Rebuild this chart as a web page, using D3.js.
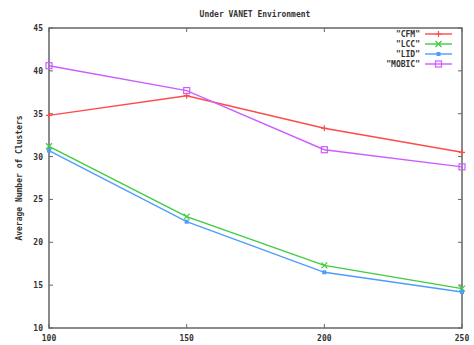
<!DOCTYPE html>
<html>
<head>
<meta charset="utf-8">
<script src="https://cdn.jsdelivr.net/npm/d3@7"></script>
<style>
  body { margin: 0; background: #fff; }
  svg { display: block; }
</style>
</head>
<body>
<svg id="chart" width="474" height="345"></svg>
<script>
// data
const nodes = [100, 150, 200, 250];
const cfm   = [34.8, 37.1, 33.3, 30.5];
const lcc   = [31.2, 23.0, 17.3, 14.6];
const lid   = [30.7, 22.4, 16.5, 14.2];
const mobic = [40.6, 37.7, 30.8, 28.8];
const yTicks = [10, 15, 20, 25, 30, 35, 40, 45];

const series = [
  { name: "\"CFM\"",   values: cfm,   color: "#ff4a4a", marker: "plus" },
  { name: "\"LCC\"",   values: lcc,   color: "#3fcc3f", marker: "cross" },
  { name: "\"LID\"",   values: lid,   color: "#4d9dff", marker: "star" },
  { name: "\"MOBIC\"", values: mobic, color: "#cc5cff", marker: "square" }
];

const svg = d3.select("#chart");
svg.style("font-family", "DejaVu Sans Mono").style("font-weight", "bold");

const plotLeft = 49, plotRight = 462, plotTop = 28, plotBottom = 328;

const x = d3.scaleLinear().domain([100, 250]).range([plotLeft, plotRight]);
const y = d3.scaleLinear().domain([10, 45]).range([plotBottom, plotTop]);

// title
svg.append("text")
  .attr("x", 255)
  .attr("y", 17)
  .attr("text-anchor", "middle")
  .attr("font-size", "8px")
  .attr("fill", "#333")
  .text("Under VANET Environment");

// y axis label
svg.append("text")
  .attr("transform", `translate(22, ${(plotTop + plotBottom) / 2}) rotate(-90)`)
  .attr("text-anchor", "middle")
  .attr("font-size", "8px")
  .attr("fill", "#333")
  .text("Average Number of Clusters");

// tick marks on all sides
const tickLen = 4;
const frame = svg.append("g").attr("stroke", "#666").attr("stroke-width", 1);
yTicks.forEach(t => {
  frame.append("line").attr("x1", plotLeft).attr("x2", plotLeft + tickLen).attr("y1", y(t)).attr("y2", y(t));
  frame.append("line").attr("x1", plotRight).attr("x2", plotRight - tickLen).attr("y1", y(t)).attr("y2", y(t));
  svg.append("text")
    .attr("x", 43)
    .attr("y", y(t) + 3)
    .attr("text-anchor", "end")
    .attr("font-size", "8px")
    .attr("fill", "#333")
    .text(t);
});
nodes.forEach(n => {
  frame.append("line").attr("x1", x(n)).attr("x2", x(n)).attr("y1", plotBottom).attr("y2", plotBottom - tickLen);
  frame.append("line").attr("x1", x(n)).attr("x2", x(n)).attr("y1", plotTop).attr("y2", plotTop + tickLen);
  svg.append("text")
    .attr("x", x(n))
    .attr("y", 341)
    .attr("text-anchor", "middle")
    .attr("font-size", "8px")
    .attr("fill", "#333")
    .text(n);
});

// frame
svg.append("rect")
  .attr("x", plotLeft).attr("y", plotTop)
  .attr("width", plotRight - plotLeft).attr("height", plotBottom - plotTop)
  .attr("fill", "none")
  .attr("stroke", "#666")
  .attr("stroke-width", 1.5);

function drawMarker(g, kind, cx, cy, color) {
  const s = 3;
  if (kind === "plus") {
    g.append("path").attr("d", `M${cx - s},${cy}H${cx + s}M${cx},${cy - s}V${cy + s}`)
      .attr("stroke", color).attr("stroke-width", 1.2).attr("fill", "none");
  } else if (kind === "cross") {
    g.append("path").attr("d", `M${cx - s},${cy - s}L${cx + s},${cy + s}M${cx - s},${cy + s}L${cx + s},${cy - s}`)
      .attr("stroke", color).attr("stroke-width", 1.2).attr("fill", "none");
  } else if (kind === "star") {
    g.append("rect").attr("x", cx - 2).attr("y", cy - 2).attr("width", 4).attr("height", 4)
      .attr("fill", color);
  } else {
    g.append("rect").attr("x", cx - 3).attr("y", cy - 3).attr("width", 6).attr("height", 6)
      .attr("fill", "none").attr("stroke", color).attr("stroke-width", 1.2);
  }
}

const line = d3.line()
  .x((d, i) => x(nodes[i]))
  .y(d => y(d));

series.forEach((s, k) => {
  const g = svg.append("g");
  g.append("path")
    .datum(s.values)
    .attr("fill", "none")
    .attr("stroke", s.color)
    .attr("stroke-width", 1.4)
    .attr("d", line);
  s.values.forEach((v, i) => drawMarker(g, s.marker, x(nodes[i]), y(v), s.color));

  // legend entry
  const ly = 34 + k * 10;
  svg.append("text")
    .attr("x", 420)
    .attr("y", ly + 3)
    .attr("text-anchor", "end")
    .attr("font-size", "8px")
    .attr("fill", "#333")
    .text(s.name);
  g.append("line")
    .attr("x1", 425).attr("x2", 452)
    .attr("y1", ly).attr("y2", ly)
    .attr("stroke", s.color).attr("stroke-width", 1.4);
  drawMarker(g, s.marker, 438.5, ly, s.color);
});
</script>
</body>
</html>
